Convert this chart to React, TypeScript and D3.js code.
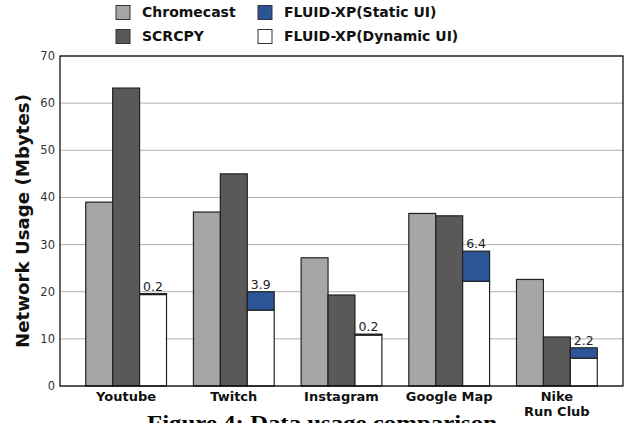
import React from "react";
import * as d3 from "d3";

const categories = ["Youtube", "Twitch", "Instagram", "Google Map", "Nike\nRun Club"];
const chromecast = [39.0, 36.9, 27.2, 36.6, 22.6];
const scrcpy = [63.2, 45.0, 19.3, 36.1, 10.4];
const dynamicUI = [19.4, 16.1, 10.8, 22.2, 5.9];
const staticUI = [0.2, 3.9, 0.2, 6.4, 2.2];
const staticLabels = ["0.2", "3.9", "0.2", "6.4", "2.2"];
const yTicks = [0, 10, 20, 30, 40, 50, 60, 70];
const legendItems = [
  { label: "Chromecast", color: "#a6a6a6" },
  { label: "SCRCPY", color: "#595959" },
  { label: "FLUID-XP(Static UI)", color: "#2c5597" },
  { label: "FLUID-XP(Dynamic UI)", color: "#ffffff" },
];

const W = 630;
const H = 423;
const left = 60;
const right = 623;
const top = 56;
const bottom = 386;

export default function App() {
  const x = d3.scaleLinear().domain([-0.614, 4.614]).range([left, right]);
  const y = d3.scaleLinear().domain([0, 70]).range([bottom, top]);
  const bw = 0.25;
  const bwPx = x(bw) - x(0);
  const edge = "#222";
  const sw = 1.2;

  return (
    <svg width={W} height={H} style={{ position: "absolute", left: 0, top: 0 }}
      fontFamily="DejaVu Sans, sans-serif">
      <rect x={0} y={0} width={W} height={H} fill="#fff" />
      {/* gridlines */}
      {yTicks.map((t) => (
        <line key={"g" + t} x1={left} x2={right} y1={y(t)} y2={y(t)} stroke="#b0b0b0" strokeWidth={1} />
      ))}
      {/* bars */}
      {categories.map((c, i) => {
        const xc = x(i - bw);
        const xs = x(i);
        const xd = x(i + bw);
        return (
          <g key={c}>
            <rect x={xc - bwPx / 2} y={y(chromecast[i])} width={bwPx} height={y(0) - y(chromecast[i])}
              fill={legendItems[0].color} stroke={edge} strokeWidth={sw} />
            <rect x={xs - bwPx / 2} y={y(scrcpy[i])} width={bwPx} height={y(0) - y(scrcpy[i])}
              fill={legendItems[1].color} stroke={edge} strokeWidth={sw} />
            <rect x={xd - bwPx / 2} y={y(dynamicUI[i])} width={bwPx} height={y(0) - y(dynamicUI[i])}
              fill={legendItems[3].color} stroke={edge} strokeWidth={sw} />
            <rect x={xd - bwPx / 2} y={y(dynamicUI[i] + staticUI[i])} width={bwPx}
              height={y(dynamicUI[i]) - y(dynamicUI[i] + staticUI[i])}
              fill={legendItems[2].color} stroke={edge} strokeWidth={sw} />
            <text x={xd} y={y(dynamicUI[i] + staticUI[i]) - 3} textAnchor="middle" fontSize={12.5} fill="#222">
              {staticLabels[i]}
            </text>
            <text textAnchor="middle" fontSize={13} fontWeight="bold" fill="#111">
              {c.split("\n").map((line, k) => (
                <tspan key={k} x={xs} y={bottom + 15 + k * 15}>{line}</tspan>
              ))}
            </text>
          </g>
        );
      })}
      {/* frame */}
      <rect x={left} y={top} width={right - left} height={bottom - top} fill="none" stroke="#000" strokeWidth={1.2} />
      {/* y tick labels */}
      {yTicks.map((t) => (
        <text key={"t" + t} x={left - 5} y={y(t)} dy="0.35em" textAnchor="end" fontSize={11.5} fill="#333">
          {t}
        </text>
      ))}
      {/* y title */}
      <text transform={`translate(29,${(top + bottom) / 2}) rotate(-90)`} textAnchor="middle"
        fontSize={18.2} fontWeight="bold" fill="#111">
        Network Usage (Mbytes)
      </text>
      {/* legend */}
      {legendItems.map((it, k) => {
        const col = k < 2 ? 0 : 1;
        const row = k % 2;
        const lx = col === 0 ? 116 : 258;
        const ly = row === 0 ? 12.5 : 36.5;
        return (
          <g key={it.label}>
            <rect x={lx} y={ly - 7} width={14} height={14} fill={it.color} stroke="#333" strokeWidth={1} />
            <text x={lx + 26} y={ly} dy="0.35em" fontSize={14} fontWeight="bold" fill="#111">
              {it.label}
            </text>
          </g>
        );
      })}
      {/* caption */}
      <text x={322} y={430} textAnchor="middle" fontSize={20} fontWeight="bold"
        fontFamily="Liberation Serif, serif" fill="#000" textLength={350} lengthAdjust="spacingAndGlyphs">
        Figure 4: Data usage comparison
      </text>
    </svg>
  );
}
